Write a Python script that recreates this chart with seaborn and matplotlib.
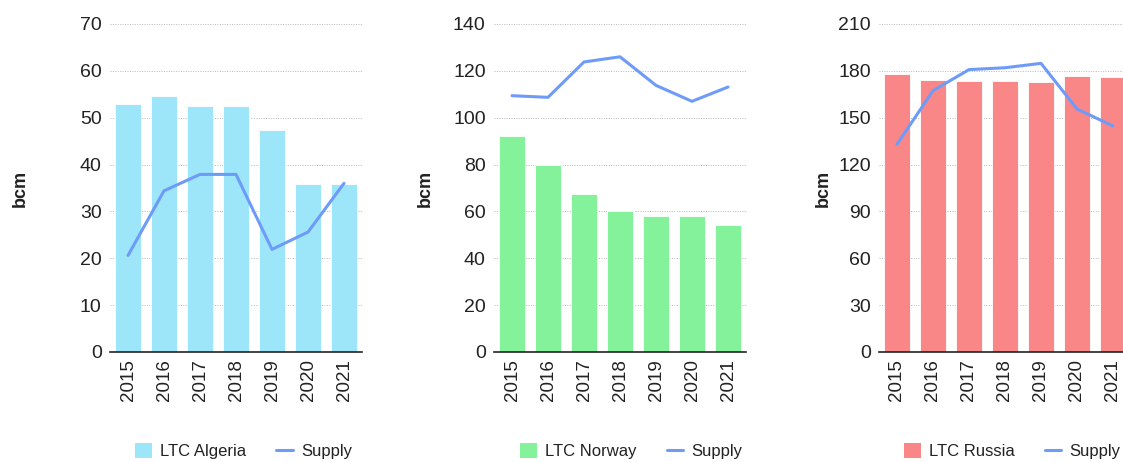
import matplotlib
matplotlib.use('Agg')
import matplotlib.pyplot as plt
import seaborn as sns
import numpy as np
import pandas as pd

YEARS = ['2015', '2016', '2017', '2018', '2019', '2020', '2021']

algeria_ltc = [53.0, 54.6, 52.6, 52.6, 47.3, 35.8, 35.8]
algeria_supply = [20.6, 34.4, 37.9, 37.9, 21.9, 25.6, 36.0]

norway_ltc = [92.3, 79.8, 67.6, 60.0, 58.2, 58.2, 54.3]
norway_supply = [109.4, 108.7, 123.8, 126.0, 113.8, 107.0, 113.1]

russia_ltc = [177.8, 174.4, 173.7, 173.5, 172.9, 176.9, 176.1]
russia_supply = [133.0, 167.3, 180.8, 182.0, 184.8, 155.6, 144.7]

sns.set_theme(style='white')
plt.rcParams['font.family'] = ['Liberation Sans Narrow', 'Liberation Sans', 'DejaVu Sans']

W, H = 1123, 462
fig = plt.figure(figsize=(W / 100, H / 100), dpi=100)

LINE_COLOR = '#6f9bf8'

panels = [
    # (label, ltc, supply, colour, ymax, step, axes left px, ylabel x px, legend left px)
    ('LTC Algeria', algeria_ltc, algeria_supply, '#9de6fa', 70, 10, 110, 20, 135),
    ('LTC Norway', norway_ltc, norway_supply, '#83f29b', 140, 20, 494, 425, 520),
    ('LTC Russia', russia_ltc, russia_supply, '#f98787', 210, 30, 879, 823, 904),
]

for label, ltc, supply, colour, ymax, step, left, ylab_x, leg_x in panels:
    ax = fig.add_axes([left / W, 110 / H, 252 / W, 328 / H])
    df = pd.DataFrame({'year': YEARS, 'ltc': ltc, 'supply': supply})

    sns.barplot(data=df, x='year', y='ltc', color=colour, saturation=1,
                width=0.72, edgecolor='white', linewidth=0.6, ax=ax, zorder=2)
    sns.lineplot(x=np.arange(len(YEARS)), y=df['supply'], color=LINE_COLOR,
                 linewidth=2.2, ax=ax, zorder=3)

    ax.set_xlim(-0.5, len(YEARS) - 0.5)
    ax.set_ylim(0, ymax)
    ax.set_yticks(np.arange(0, ymax + 1, step))
    ax.yaxis.grid(True, linestyle=(0, (1, 1.5)), color='#b8b8b8', linewidth=0.7, zorder=0)
    ax.set_axisbelow(True)
    for s in ['left', 'right', 'top']:
        ax.spines[s].set_visible(False)
    ax.spines['bottom'].set_color('#222222')
    ax.spines['bottom'].set_linewidth(1.2)
    ax.tick_params(axis='y', length=0, labelsize=14, colors='#222222', pad=6)
    ax.tick_params(axis='x', length=0, labelsize=13.5, colors='#222222', rotation=90, pad=5)
    ax.set_xlabel('')
    ax.set_ylabel('')
    fig.text(ylab_x / W, 1 - 188 / H, 'bcm', rotation=90, ha='center', va='center',
             fontsize=13, fontweight='bold', color='#222222',
             family=['Liberation Sans', 'DejaVu Sans'])

    handles = [
        matplotlib.patches.Patch(facecolor=colour, edgecolor='none'),
        matplotlib.lines.Line2D([], [], color=LINE_COLOR, linewidth=2.2),
    ]
    fig.legend(handles, [label, 'Supply'], loc='center left', ncol=2, frameon=False,
               bbox_to_anchor=(leg_x / W, 1 - 451 / H), fontsize=12, borderpad=0,
               borderaxespad=0, handlelength=1.0, handleheight=1.0, handletextpad=0.5,
               columnspacing=1.8, labelcolor='#222222')

fig.savefig('out.png', dpi=100, facecolor='white')
